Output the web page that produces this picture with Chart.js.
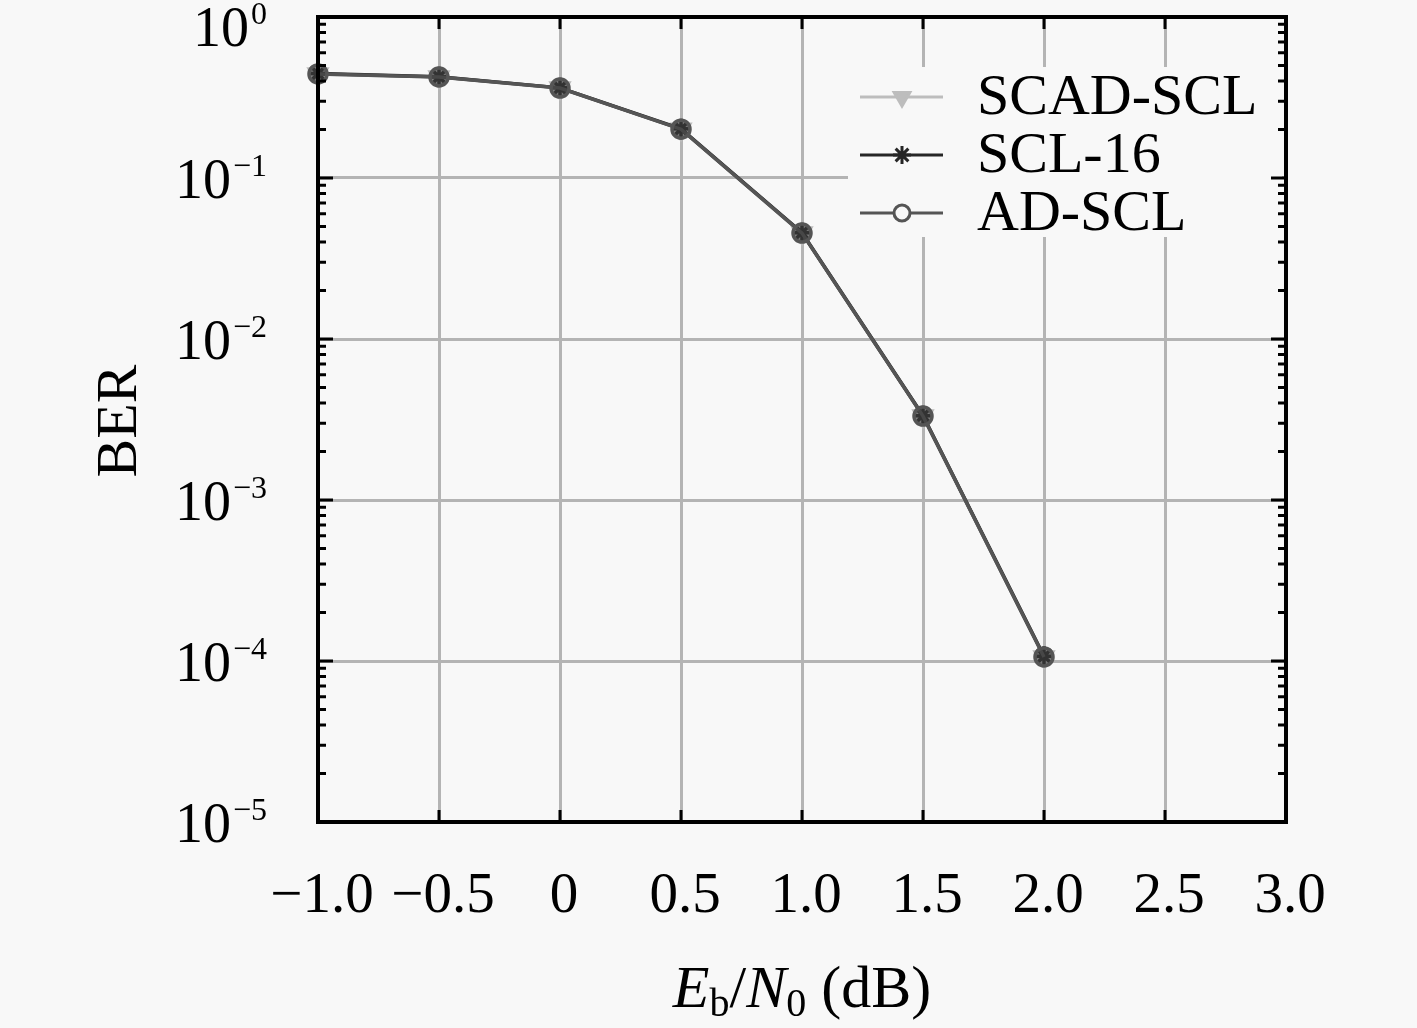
<!DOCTYPE html>
<html>
<head>
<meta charset="utf-8">
<script src="https://cdn.jsdelivr.net/npm/chart.js@4.4.1/dist/chart.umd.min.js"></script>
<style>
  html, body { margin: 0; padding: 0; background: #f8f8f8; }
  #berChart { display: block; }
</style>
</head>
<body>
<canvas id="berChart" width="1417" height="1028"></canvas>
<script>
// ===================== BER vs Eb/N0 =====================
var snrDb = [-1.0, -0.5, 0, 0.5, 1.0, 1.5, 2.0];
var berScadScl = [0.443, 0.424, 0.362, 0.201, 0.0455, 0.00332, 0.000106];
var berScl16 = [0.445, 0.425, 0.363, 0.202, 0.0457, 0.00334, 0.000107];
var berAdScl = [0.443, 0.424, 0.362, 0.201, 0.0455, 0.00332, 0.000106];

var xTicks = [-1.0, -0.5, 0, 0.5, 1.0, 1.5, 2.0, 2.5, 3.0];
var xTickLabels = ['\u22121.0', '\u22120.5', '0', '0.5', '1.0', '1.5', '2.0', '2.5', '3.0'];
var yExponents = [0, -1, -2, -3, -4, -5];
var legendNames = ['SCAD-SCL', 'SCL-16', 'AD-SCL'];

var bg = '#f8f8f8';
var serif = '"Liberation Serif", "DejaVu Serif", serif';

function toPoints(ys) {
    return snrDb.map(function (x, i) { return { x: x, y: ys[i] }; });
}

var seriesStyle = [
    { color: '#bdbdbd', pointStyle: 'triangle', rotation: 180, radius: 10, fill: '#bdbdbd' },
    { color: '#262626', pointStyle: 'star', rotation: 0, radius: 10, fill: '#262626' },
    { color: '#555555', pointStyle: 'circle', rotation: 0, radius: 9, fill: 'rgba(60,60,60,0.55)' }
];
var seriesData = [berScadScl, berScl16, berAdScl];

var datasets = seriesData.map(function (ys, i) {
    var s = seriesStyle[i];
    return {
        label: legendNames[i],
        data: toPoints(ys),
        borderColor: s.color,
        backgroundColor: s.fill,
        borderWidth: 3.5,
        pointStyle: s.pointStyle,
        rotation: s.rotation,
        pointRadius: s.radius,
        pointBorderWidth: 3.5,
        pointBorderColor: s.color,
        pointBackgroundColor: s.fill,
        tension: 0,
        clip: false,
        order: 3 - i
    };
});

// frame, inward ticks, tick labels, axis titles, legend
var decorations = {
    id: 'decorations',
    afterDraw: function (chart) {
        var ctx = chart.ctx;
        var a = chart.chartArea;
        var xs = chart.scales.x;
        var ys = chart.scales.y;
        ctx.save();

        // legend box
        ctx.fillStyle = bg;
        ctx.fillRect(848, 67, 434, 170);
        var rowY = [97, 155, 213];
        legendNames.forEach(function (name, i) {
            var s = seriesStyle[i];
            ctx.strokeStyle = s.color;
            ctx.lineWidth = 3;
            ctx.beginPath();
            ctx.moveTo(860, rowY[i]);
            ctx.lineTo(943, rowY[i]);
            ctx.stroke();
            ctx.fillStyle = s.pointStyle === 'circle' ? bg : s.fill;
            Chart.helpers.drawPoint(ctx, {
                pointStyle: s.pointStyle, rotation: s.rotation,
                radius: s.radius - 1, borderWidth: 3
            }, 902, rowY[i]);
            ctx.fillStyle = '#000';
            ctx.font = '58px ' + serif;
            ctx.textAlign = 'left';
            ctx.textBaseline = 'middle';
            ctx.fillText(name, 977, rowY[i] + 2);
        });

        // minor and major inward ticks
        ctx.strokeStyle = '#000';
        ctx.lineWidth = 3;
        ctx.beginPath();
        yExponents.forEach(function (e) {
            var yy = ys.getPixelForValue(Math.pow(10, e));
            ctx.moveTo(a.left, yy); ctx.lineTo(a.left + 15, yy);
            ctx.moveTo(a.right, yy); ctx.lineTo(a.right - 15, yy);
            if (e > -5) {
                for (var k = 2; k <= 9; k++) {
                    var ym = ys.getPixelForValue(k * Math.pow(10, e - 1));
                    ctx.moveTo(a.left, ym); ctx.lineTo(a.left + 8, ym);
                    ctx.moveTo(a.right, ym); ctx.lineTo(a.right - 8, ym);
                }
            }
        });
        xTicks.forEach(function (v) {
            var xx = xs.getPixelForValue(v);
            ctx.moveTo(xx, a.bottom); ctx.lineTo(xx, a.bottom - 12);
            ctx.moveTo(xx, a.top); ctx.lineTo(xx, a.top + 12);
        });
        ctx.stroke();

        // frame
        ctx.lineWidth = 4;
        ctx.strokeRect(a.left, a.top, a.right - a.left, a.bottom - a.top);

        // x tick labels
        ctx.fillStyle = '#000';
        ctx.font = '57px ' + serif;
        ctx.textAlign = 'center';
        ctx.textBaseline = 'alphabetic';
        xTicks.forEach(function (v, i) {
            ctx.fillText(xTickLabels[i], xs.getPixelForValue(v) + 4, 912);
        });

        // y tick labels 10^e
        yExponents.forEach(function (e) {
            var yy = ys.getPixelForValue(Math.pow(10, e));
            var drop = e === 0 ? 29 : 20;
            var expText = e < 0 ? '\u2212' + (-e) : String(e);
            ctx.font = '32px ' + serif;
            var w2 = ctx.measureText(expText).width;
            ctx.font = '56px ' + serif;
            var w1 = ctx.measureText('10').width;
            var x0 = 267 - w2 - w1 - 2;
            ctx.textAlign = 'left';
            ctx.fillText('10', x0, yy + drop);
            ctx.font = '32px ' + serif;
            ctx.fillText(expText, x0 + w1 + 2, yy + drop - 22);
        });

        // y title
        ctx.save();
        ctx.translate(136, 421);
        ctx.rotate(-Math.PI / 2);
        ctx.font = '58px ' + serif;
        ctx.textAlign = 'center';
        ctx.fillText('BER', 0, 0);
        ctx.restore();

        // x title: E_b/N_0 (dB)
        var parts = [
            { t: 'E', f: 'italic 60px ' + serif, dy: 0 },
            { t: 'b', f: '40px ' + serif, dy: 9 },
            { t: '/', f: '60px ' + serif, dy: 0 },
            { t: 'N', f: 'italic 60px ' + serif, dy: 0 },
            { t: '0', f: '40px ' + serif, dy: 9 },
            { t: ' (dB)', f: '60px ' + serif, dy: 0 }
        ];
        var total = 0;
        parts.forEach(function (p) { ctx.font = p.f; p.w = ctx.measureText(p.t).width; total += p.w; });
        var cx = 802 - total / 2;
        ctx.textAlign = 'left';
        parts.forEach(function (p) {
            ctx.font = p.f;
            ctx.fillText(p.t, cx, 1007 + p.dy);
            cx += p.w;
        });

        ctx.restore();
    }
};

new Chart(document.getElementById('berChart'), {
    type: 'line',
    data: { datasets: datasets },
    options: {
        responsive: false,
        animation: false,
        devicePixelRatio: 1,
        layout: { padding: { left: 318, top: 17, right: 131, bottom: 206 } },
        plugins: { legend: { display: false }, tooltip: { enabled: false } },
        scales: {
            x: {
                type: 'linear',
                min: -1, max: 3,
                afterBuildTicks: function (scale) {
                    scale.ticks = xTicks.map(function (v) { return { value: v }; });
                },
                ticks: { display: false },
                grid: { color: '#b4b4b4', lineWidth: 3, drawTicks: false },
                border: { display: false }
            },
            y: {
                type: 'logarithmic',
                min: 1e-5, max: 1,
                afterBuildTicks: function (scale) {
                    scale.ticks = yExponents.map(function (e) { return { value: Math.pow(10, e) }; });
                },
                ticks: { display: false },
                grid: { color: '#b4b4b4', lineWidth: 3, drawTicks: false },
                border: { display: false }
            }
        }
    },
    plugins: [decorations]
});
</script>
</body>
</html>
